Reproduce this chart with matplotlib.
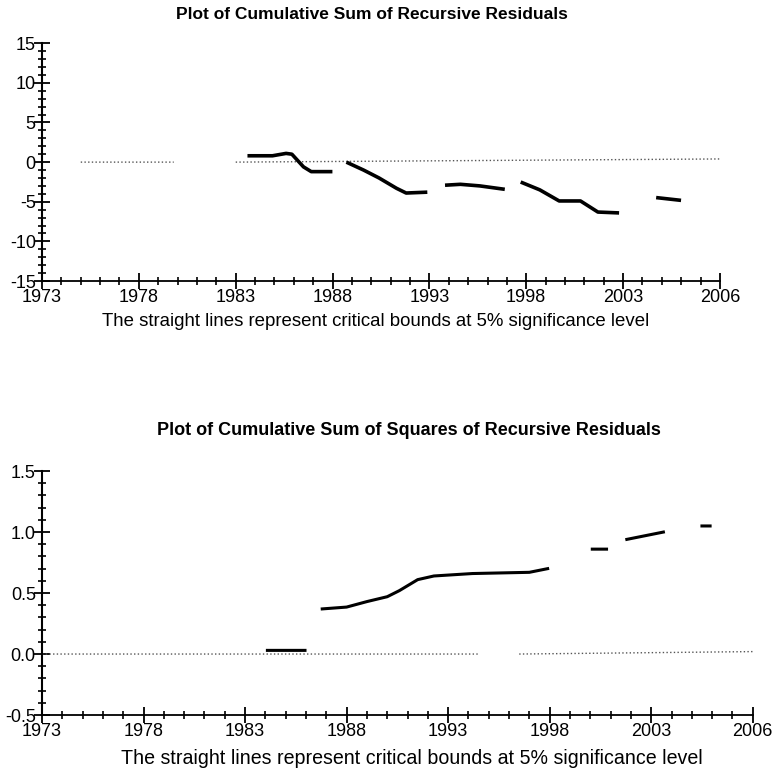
import numpy as np
import matplotlib
matplotlib.use("Agg")
import matplotlib.pyplot as plt
from matplotlib.ticker import MultipleLocator

plt.rcParams['font.family'] = ['Liberation Sans', 'DejaVu Sans']

# x tick labels (last label sits one period past 2003+5)
xtick_pos = [1973, 1978, 1983, 1988, 1993, 1998, 2003, 2008]
xtick_lab = ['1973', '1978', '1983', '1988', '1993', '1998', '2003', '2006']

# CUSUM of recursive residuals (gaps are where the scan lost the line)
cusum_x = [1983.7, 1984.9, 1985.6, 1985.9, 1986.5, 1986.9, 1987.9, np.nan,
           1988.8, 1989.6, 1990.4, 1991.3, 1991.8, 1992.8, np.nan,
           1993.9, 1994.6, 1995.6, 1996.8, np.nan,
           1997.8, 1998.7, 1999.7, 2000.8, 2001.7, 2002.7, np.nan,
           2004.8, 2005.9]
cusum_y = [0.8, 0.8, 1.1, 1.0, -0.6, -1.2, -1.2, np.nan,
           -0.1, -1.0, -2.0, -3.3, -3.9, -3.8, np.nan,
           -2.9, -2.8, -3.0, -3.4, np.nan,
           -2.6, -3.5, -4.9, -4.9, -6.3, -6.4, np.nan,
           -4.5, -4.8]
bound1_x = [1975.0, 1979.8, np.nan, 1983.0, 2008.0]
bound1_y = [0.0, 0.0, np.nan, 0.0, 0.4]

# CUSUM of squares
cusq_x = [1984.1, 1985.95, np.nan,
          1986.8, 1988.0, 1989.0, 1990.0, 1990.6, 1991.5, 1992.3, 1994.2,
          1997.0, 1997.9, np.nan, 2000.1, 2000.8, np.nan,
          2001.8, 2003.6, np.nan, 2005.5, 2005.9]
cusq_y = [0.03, 0.03, np.nan,
          0.37, 0.385, 0.43, 0.47, 0.52, 0.61, 0.64, 0.66,
          0.67, 0.70, np.nan, 0.86, 0.86, np.nan,
          0.94, 1.0, np.nan, 1.05, 1.05]
bound2_x = [1973.0, 1994.5, np.nan, 1996.5, 2008.0]
bound2_y = [0.0, 0.0, np.nan, 0.0, 0.02]

fig = plt.figure(figsize=(7.81, 7.72), dpi=100)
ax1 = fig.add_axes([0.0538, 0.636, 0.868, 0.308])
ax2 = fig.add_axes([0.0538, 0.0738, 0.910, 0.316])


def style(ax, ylim, ymajor, yminor, yfmt):
    for s in ['top', 'right']:
        ax.spines[s].set_visible(False)
    ax.spines['left'].set_linewidth(1.5)
    ax.spines['bottom'].set_linewidth(1.3)
    ax.set_xlim(1973, 2008)
    ax.set_ylim(*ylim)
    ax.set_xticks(xtick_pos)
    ax.set_xticklabels(xtick_lab)
    ax.xaxis.set_minor_locator(MultipleLocator(1))
    ax.yaxis.set_major_locator(MultipleLocator(ymajor))
    ax.yaxis.set_minor_locator(MultipleLocator(yminor))
    ax.yaxis.set_major_formatter(yfmt)
    ax.tick_params(which='major', direction='inout', length=11, width=1.3,
                   labelsize=13, pad=0)
    ax.tick_params(which='minor', direction='inout', length=6, width=1.2)
    ax.tick_params(axis='y', pad=-1)


ax1.plot(bound1_x, bound1_y, color='#555555', linestyle=':', linewidth=1)
ax1.plot(cusum_x, cusum_y, color='black', linewidth=2.6)
style(ax1, (-15, 15), 5, 1, matplotlib.ticker.FormatStrFormatter('%d'))

ax2.plot(bound2_x, bound2_y, color='#555555', linestyle=':', linewidth=1)
ax2.plot(cusq_x, cusq_y, color='black', linewidth=2.2)
style(ax2, (-0.5, 1.5), 0.5, 0.1, matplotlib.ticker.FormatStrFormatter('%.1f'))

for ax in (ax1, ax2):
    for lab in ax.get_xticklabels() + ax.get_yticklabels():
        lab.set_clip_on(False)

fig.text(0.476, 0.981, 'Plot of Cumulative Sum of Recursive Residuals',
         ha='center', va='center', fontsize=12.5, fontweight='bold')
fig.text(0.481, 0.583,
         'The straight lines represent critical bounds at 5% significance level',
         ha='center', va='center', fontsize=13.4)
fig.text(0.524, 0.443,
         'Plot of Cumulative Sum of Squares of Recursive Residuals',
         ha='center', va='center', fontsize=13, fontweight='bold')
fig.text(0.527, 0.018,
         'The straight lines represent critical bounds at 5% significance level',
         ha='center', va='center', fontsize=14.1)

fig.savefig('out.png', dpi=100)
